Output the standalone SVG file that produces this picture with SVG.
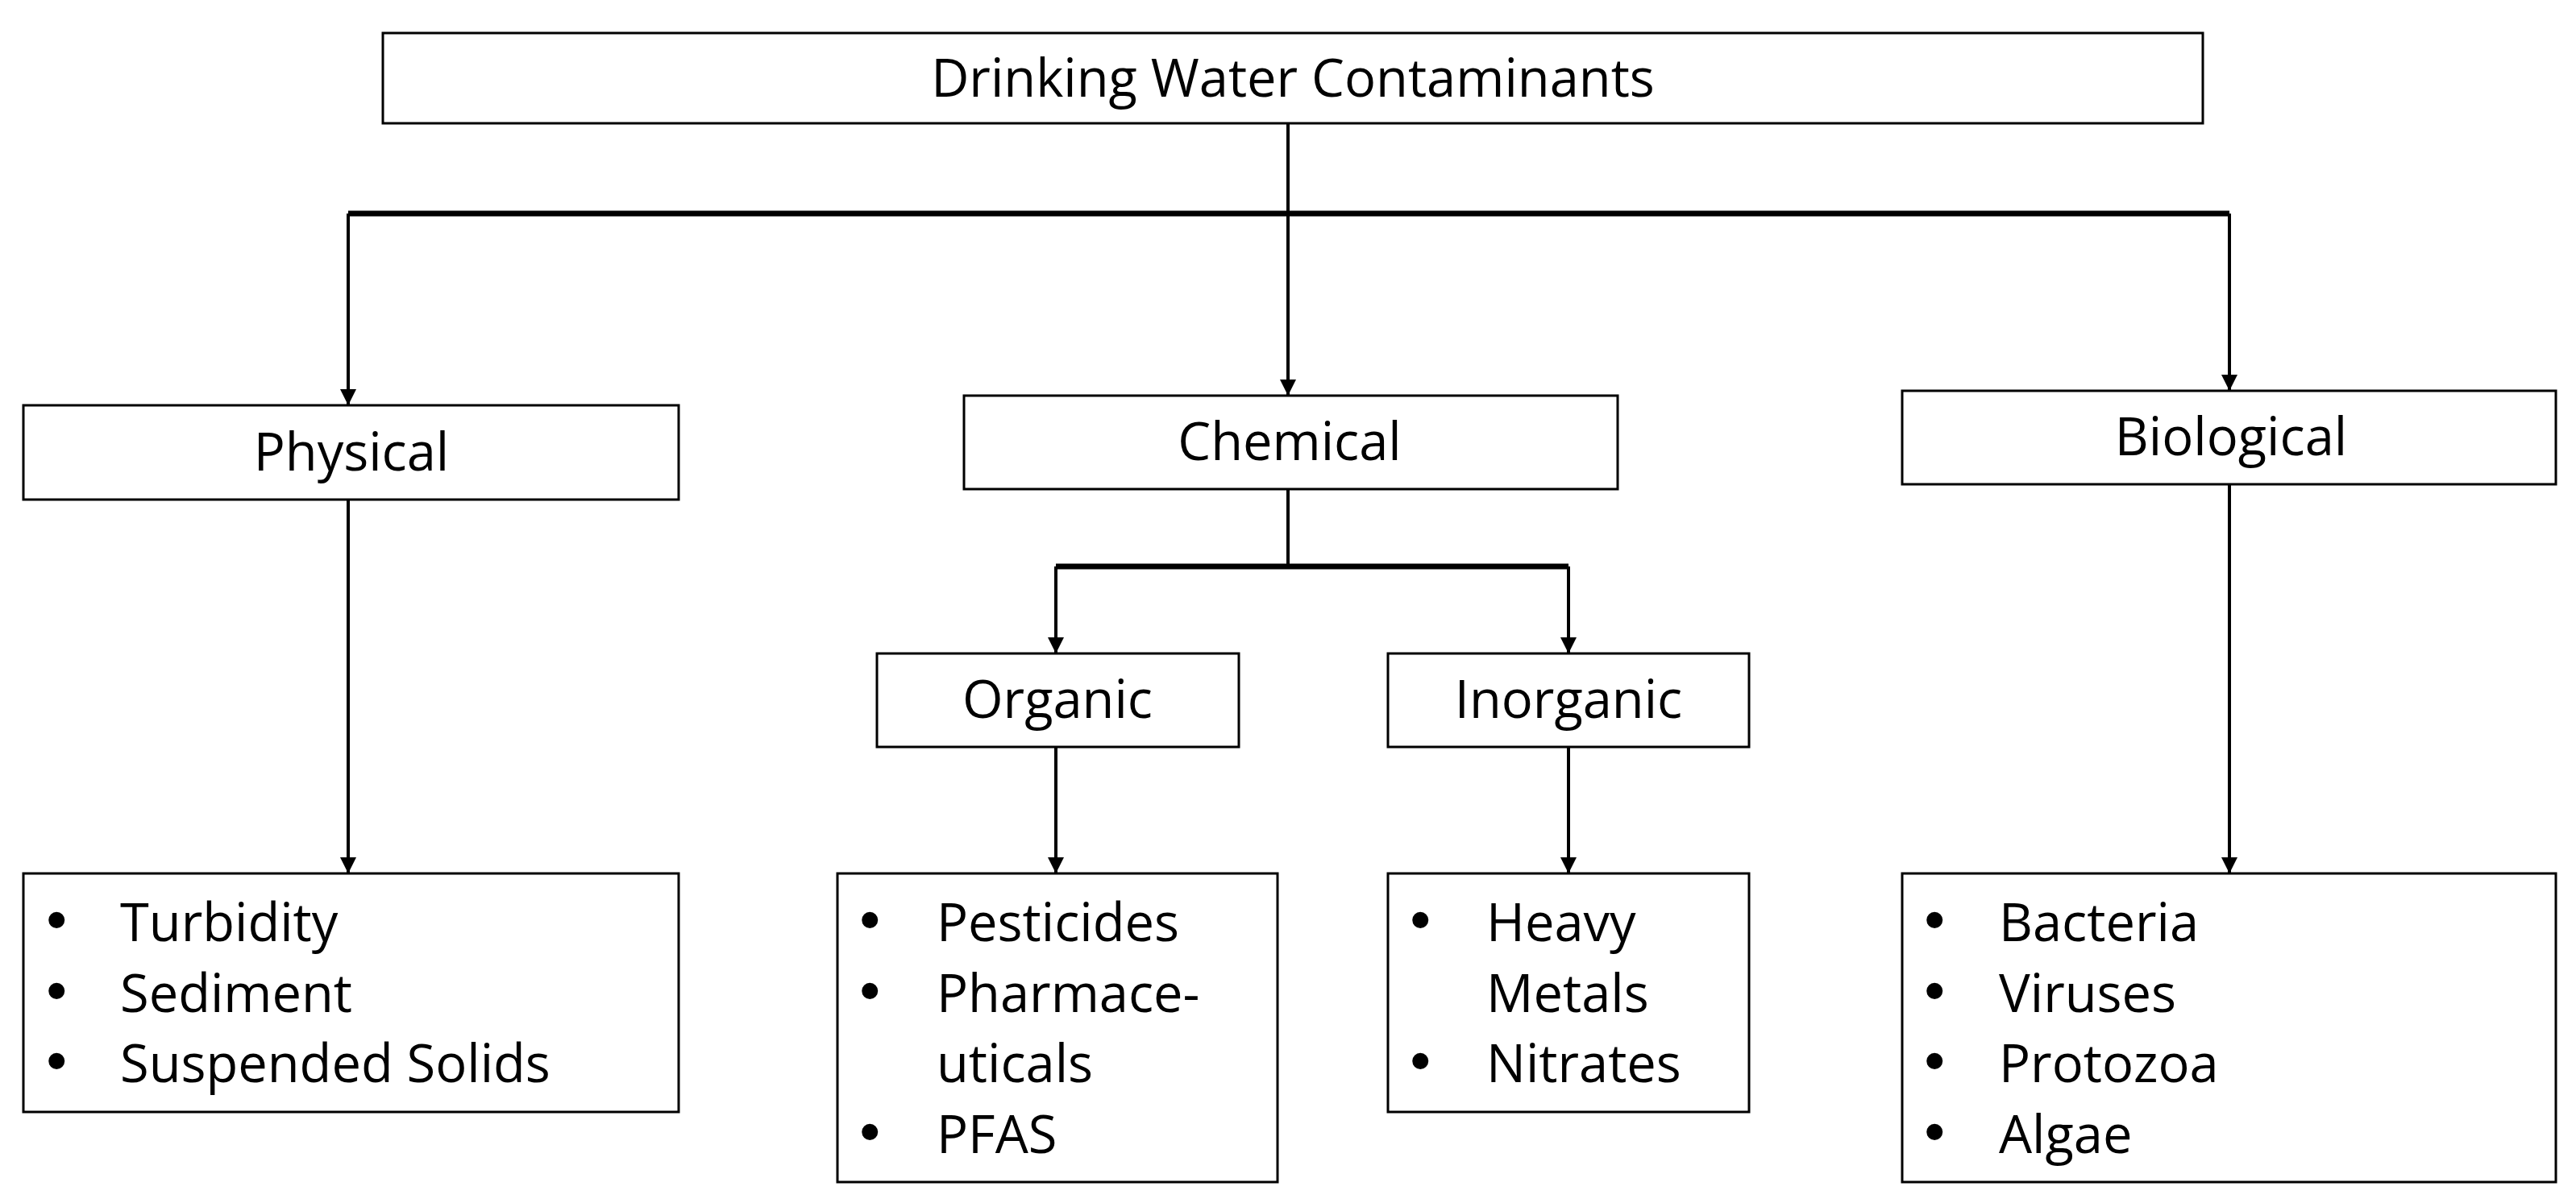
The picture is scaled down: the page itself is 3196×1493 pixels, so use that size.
<svg xmlns="http://www.w3.org/2000/svg" width="3196" height="1493" viewBox="0 0 3196 1493">
<style>
.b{fill:#fff;stroke:#000;stroke-width:3}
.t{font-family:"Open Sans","Liberation Sans",sans-serif;font-size:65px;fill:#000}
.d{font-family:"Liberation Sans",sans-serif;font-size:70px;font-weight:bold;fill:#000}
.m{text-anchor:middle}
.c{fill:none;stroke:#000;stroke-width:4}
.k{fill:none;stroke:#000;stroke-width:7}
</style>
<defs><marker id="a" viewBox="0 0 10 10" refX="10" refY="5" markerWidth="5" markerHeight="7" markerUnits="strokeWidth" orient="auto"><path d="M0,0L10,5L0,10z" fill="#000"/></marker></defs>
<rect width="3196" height="1493" fill="#fff"/>
<g id="connectors">
<path class="c" d="M1598,153V265"/>
<path class="k" d="M432,265H2766"/>
<path class="c" d="M432,265V503" marker-end="url(#a)"/>
<path class="c" d="M1598,265V491" marker-end="url(#a)"/>
<path class="c" d="M2766,265V485" marker-end="url(#a)"/>
<path class="c" d="M1598,607V703"/>
<path class="k" d="M1310,703H1946"/>
<path class="c" d="M1310,703V811" marker-end="url(#a)"/>
<path class="c" d="M1946,703V811" marker-end="url(#a)"/>
<path class="c" d="M432,620V1084" marker-end="url(#a)"/>
<path class="c" d="M1310,927V1084" marker-end="url(#a)"/>
<path class="c" d="M1946,927V1084" marker-end="url(#a)"/>
<path class="c" d="M2766,601V1084" marker-end="url(#a)"/>
</g>
<g id="root"><rect class="b" x="475" y="41" width="2258" height="112"/><text class="t m" x="1604" y="120">Drinking Water Contaminants</text></g>
<g id="physical"><rect class="b" x="29" y="503" width="813" height="117"/><text class="t m" x="436" y="584">Physical</text></g>
<g id="chemical"><rect class="b" x="1196" y="491" width="811" height="116"/><text class="t m" x="1600" y="571">Chemical</text></g>
<g id="biological"><rect class="b" x="2360" y="485" width="811" height="116"/><text class="t m" x="2768" y="565">Biological</text></g>
<g id="organic"><rect class="b" x="1088" y="811" width="449" height="116"/><text class="t m" x="1312" y="891">Organic</text></g>
<g id="inorganic"><rect class="b" x="1722" y="811" width="448" height="116"/><text class="t m" x="1946" y="891">Inorganic</text></g>
<g id="physical-list"><rect class="b" x="29" y="1084" width="813" height="296"/>
<text class="d" x="58" y="1165">•</text><text class="t" x="149" y="1168">Turbidity</text>
<text class="d" x="58" y="1253">•</text><text class="t" x="149" y="1256">Sediment</text>
<text class="d" x="58" y="1340">•</text><text class="t" x="149" y="1343">Suspended Solids</text></g>
<g id="organic-list"><rect class="b" x="1039" y="1084" width="546" height="383"/>
<text class="d" x="1067" y="1165">•</text><text class="t" x="1162" y="1168">Pesticides</text>
<text class="d" x="1067" y="1253">•</text><text class="t" x="1162" y="1256">Pharmace-</text>
<text class="t" x="1162" y="1343">uticals</text>
<text class="d" x="1067" y="1428">•</text><text class="t" x="1162" y="1431">PFAS</text></g>
<g id="inorganic-list"><rect class="b" x="1722" y="1084" width="448" height="296"/>
<text class="d" x="1750" y="1165">•</text><text class="t" x="1844" y="1168">Heavy</text>
<text class="t" x="1844" y="1256">Metals</text>
<text class="d" x="1750" y="1340">•</text><text class="t" x="1844" y="1343">Nitrates</text></g>
<g id="biological-list"><rect class="b" x="2360" y="1084" width="811" height="383"/>
<text class="d" x="2388" y="1165">•</text><text class="t" x="2480" y="1168">Bacteria</text>
<text class="d" x="2388" y="1253">•</text><text class="t" x="2480" y="1256">Viruses</text>
<text class="d" x="2388" y="1340">•</text><text class="t" x="2480" y="1343">Protozoa</text>
<text class="d" x="2388" y="1428">•</text><text class="t" x="2480" y="1431">Algae</text></g>
</svg>
